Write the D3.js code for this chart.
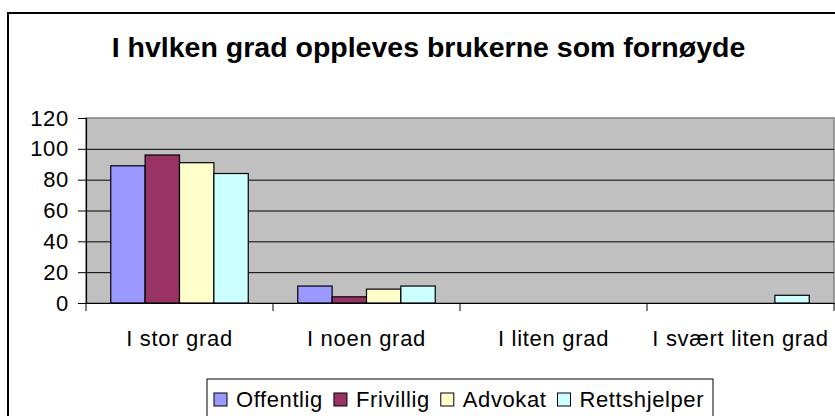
<!DOCTYPE html>
<html>
<head>
<meta charset="utf-8">
<script src="https://cdn.jsdelivr.net/npm/d3@7"></script>
<style>
  body { margin: 0; background: #fff; }
  text { font-family: "Liberation Sans", Arial, sans-serif; }
</style>
</head>
<body>
<div id="chart"></div>
<script>
var title = 'I hvlken grad oppleves brukerne som fornøyde'
var categories = ['I stor grad', 'I noen grad', 'I liten grad', 'I svært liten grad']
var series = ['Offentlig', 'Frivillig', 'Advokat', 'Rettshjelper']
var offentlig = [89, 11, 0, 0]
var frivillig = [96, 4, 0, 0]
var advokat = [91, 9, 0, 0]
var rettshjelper = [84, 11, 0, 5]
var yTicks = [0, 20, 40, 60, 80, 100, 120]
var colors = ['#9999FF', '#993366', '#FFFFCC', '#CCFFFF']

var values = [offentlig, frivillig, advokat, rettshjelper]

var width = 835, height = 416
var plot = {left: 86, right: 834, top: 118, bottom: 303}
var font = '"Liberation Sans", Arial, sans-serif'

var svg = d3.select('#chart').append('svg')
    .attr('width', width)
    .attr('height', height)

// outer chart frame
svg.append('rect')
    .attr('x', 8).attr('y', 13)
    .attr('width', 840).attr('height', 430)
    .attr('fill', 'none')
    .attr('stroke', '#000')
    .attr('stroke-width', 2)

svg.append('text')
    .attr('x', 428.5).attr('y', 57)
    .attr('text-anchor', 'middle')
    .style('font-size', '28.5px')
    .style('font-weight', 'bold')
    .text(title)

var x0 = d3.scaleBand()
    .domain(categories)
    .range([plot.left, plot.right])
    .padding(0)

var x1 = d3.scaleBand()
    .domain(series)
    .range([0, x0.bandwidth()])
    .paddingInner(0)
    .paddingOuter(0.72)

var y = d3.scaleLinear()
    .domain([0, 120])
    .range([plot.bottom, plot.top])

// plot background
svg.append('rect')
    .attr('x', plot.left).attr('y', plot.top)
    .attr('width', plot.right - plot.left)
    .attr('height', plot.bottom - plot.top)
    .attr('fill', '#C0C0C0')
    .attr('stroke', '#808080')
    .attr('stroke-width', 1.5)

// gridlines
svg.append('g')
    .selectAll('line')
    .data(yTicks.filter(function(d) { return d > 0 && d < 120 }))
    .enter()
    .append('line')
    .attr('x1', plot.left).attr('x2', plot.right)
    .attr('y1', function(d) { return y(d) + 0.5 })
    .attr('y2', function(d) { return y(d) + 0.5 })
    .attr('stroke', '#000')
    .attr('stroke-width', 1)

// bars
var group = svg.append('g')
    .selectAll('g')
    .data(categories)
    .enter()
    .append('g')
    .attr('transform', function(d) { return 'translate(' + x0(d) + ',0)' })

group.selectAll('rect')
    .data(function(d, i) {
        return series.map(function(s, j) { return {s: s, v: values[j][i], c: colors[j]} })
    })
    .enter()
    .filter(function(d) { return d.v > 0 })
    .append('rect')
    .attr('x', function(d) { return x1(d.s) })
    .attr('y', function(d) { return y(d.v) })
    .attr('width', x1.bandwidth())
    .attr('height', function(d) { return y(0) - y(d.v) })
    .attr('fill', function(d) { return d.c })
    .attr('stroke', '#000')
    .attr('stroke-width', 1.2)

// y axis
var yAxis = d3.axisLeft(y)
    .tickValues(yTicks)
    .tickSize(8)
    .tickPadding(9)

var gy = svg.append('g')
    .attr('transform', 'translate(' + plot.left + ',0)')
    .call(yAxis)
gy.select('.domain').attr('stroke', '#000').attr('stroke-width', 1.2)
gy.selectAll('.tick line').attr('stroke', '#000')
gy.selectAll('.tick text')
    .attr('fill', '#000')
    .style('font-size', '22px')
    .style('letter-spacing', '0.7px')
    .style('font-family', font)

// x axis
var xAxis = d3.axisBottom(x0)
    .tickSize(0)
    .tickPadding(27)

var gx = svg.append('g')
    .attr('transform', 'translate(0,' + plot.bottom + ')')
    .call(xAxis)
gx.select('.domain').attr('stroke', '#000').attr('stroke-width', 1.2)
gx.selectAll('.tick text')
    .attr('fill', '#000')
    .style('font-size', '22px')
    .style('letter-spacing', '0.7px')
    .style('font-family', font)

// category boundary ticks
gx.selectAll('.bound')
    .data(categories.concat(['end']))
    .enter()
    .append('line')
    .attr('class', 'bound')
    .attr('x1', function(d, i) { return i < 4 ? x0(d) : plot.right })
    .attr('x2', function(d, i) { return i < 4 ? x0(d) : plot.right })
    .attr('y1', 0).attr('y2', 8)
    .attr('stroke', '#000')

// legend
var legend = svg.append('g')

legend.append('rect')
    .attr('x', 207).attr('y', 379)
    .attr('width', 506).attr('height', 60)
    .attr('fill', '#fff')
    .attr('stroke', '#000')
    .attr('stroke-width', 1)

var lx = 214
series.forEach(function(s, i) {
    legend.append('rect')
        .attr('x', lx).attr('y', 393)
        .attr('width', 13).attr('height', 13)
        .attr('fill', colors[i])
        .attr('stroke', '#000')
        .attr('stroke-width', 1)
    var t = legend.append('text')
        .attr('x', lx + 22).attr('y', 407)
        .style('font-size', '22px')
        .style('letter-spacing', '0.6px')
        .style('font-family', font)
        .text(s)
    lx = lx + 22 + t.node().getComputedTextLength() + 11
})
</script>
</body>
</html>
